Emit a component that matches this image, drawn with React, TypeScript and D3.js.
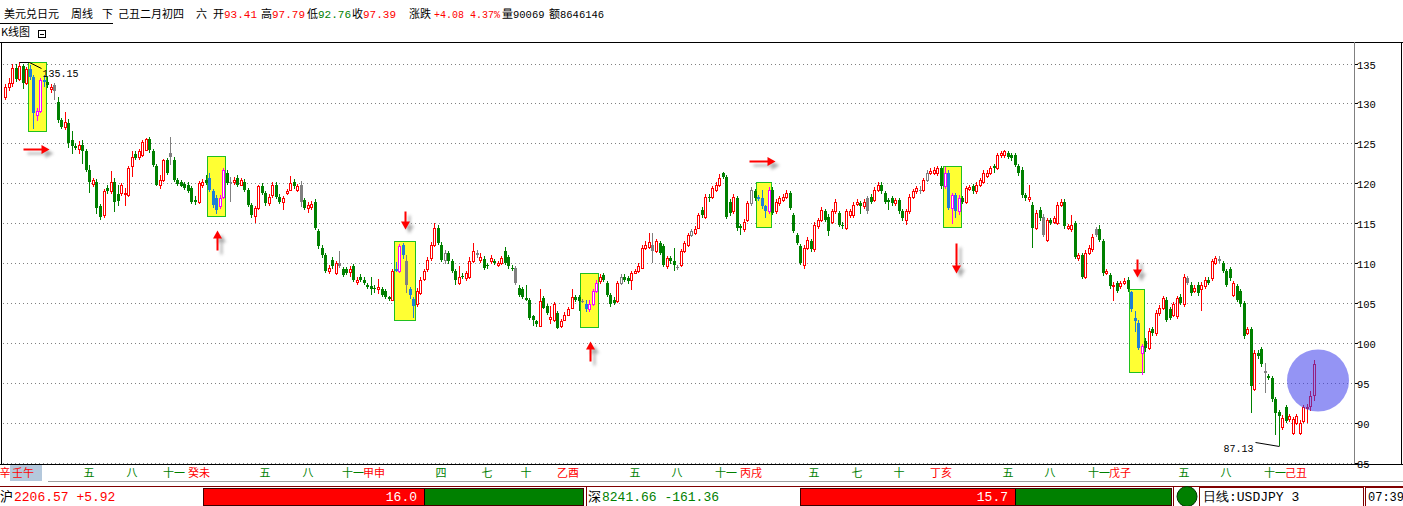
import React from "react";
import * as d3 from "d3";

// weekly USD/JPY candles: [open, high, low, close]
type Candle = [number, number, number, number];

const w2002: Candle[] = [
  [130.8,132.4,130.4,132.0],[132.0,133.2,131.5,132.6],[132.6,135.0,132.0,134.4],[134.4,134.9,132.7,133.1],
  [133.1,135.15,132.8,134.7],[134.7,135.0,131.8,132.6],[132.6,134.6,132.3,134.3],[134.3,134.8,132.9,133.3],
  [133.3,133.6,126.8,128.8],[128.6,129.4,127.8,129.0],[129.0,133.2,128.8,132.9],[132.9,133.6,132.1,132.7],
  [132.7,133.3,131.9,132.3],[131.8,132.4,131.3,132.1],[132.3,132.5,130.4,131.5],[130.2,130.8,127.6,127.9],
  [127.9,128.2,126.8,127.0],[127.1,128.9,126.7,127.7],[127.6,128.0,124.4,125.0],[125.4,126.5,123.6,124.7],
  [124.7,125.1,124.1,124.4],[124.3,125.3,123.7,124.8],[124.8,125.4,122.4,124.0],[124.0,124.3,121.4,121.7],
  [121.6,122.3,118.8,120.2],[119.9,120.7,119.5,120.4],[120.2,120.5,116.2,116.9],[117.1,117.4,115.4,115.8],
  [116.0,119.3,115.6,119.0],[119.4,119.8,118.7,119.0],[119.0,121.5,118.6,120.2],[120.2,120.6,116.4,117.7],
  [118.6,119.8,117.2,117.8],[118.8,120.0,118.4,119.8],[118.6,119.4,117.1,118.8],[118.5,122.1,118.3,121.9],
  [122.1,124.0,120.8,123.3],[123.6,124.0,122.9,123.2],[123.3,124.3,122.9,124.0],[123.5,125.4,123.3,125.2],
  [124.2,125.7,124.0,125.6],[125.6,125.8,123.8,124.2],[124.0,124.3,122.0,122.3],[122.1,122.4,119.6,119.8],
  [119.8,121.0,119.3,120.4],[120.4,123.0,120.1,122.9],[122.9,123.2,121.0,121.3],[123.8,125.8,122.3,123.3],
  [122.9,123.3,120.2,120.4],[120.4,120.6,119.7,119.9],[120.1,120.4,119.5,119.7],[119.9,120.2,119.2,119.4],
];

const w2003: Candle[] = [
  [119.8,120.1,118.8,119.0],[119.4,119.6,117.4,117.7],[117.9,118.4,117.3,117.6],[117.7,120.3,117.4,120.0],
  [119.8,120.5,119.4,120.2],[120.4,121.0,119.8,120.0],[120.6,121.3,118.9,119.2],[119.0,119.3,116.9,117.3],
  [118.2,118.5,116.2,116.6],[117.1,118.5,116.8,118.2],[118.3,121.9,118.0,121.7],[121.3,121.6,119.8,120.0],
  [120.2,120.8,117.7,120.0],[120.2,120.8,119.8,120.4],[120.6,121.0,119.5,119.8],[119.8,120.7,119.6,120.4],
  [120.2,120.5,118.9,119.2],[119.2,119.4,117.0,117.3],[117.3,117.5,115.7,116.0],[115.9,117.1,115.0,116.9],
  [116.9,119.8,116.7,119.6],[119.6,120.0,118.5,118.75],[118.75,119.0,117.2,117.5],[117.5,118.6,117.2,118.3],
  [118.5,120.1,118.2,119.8],[119.8,120.2,118.0,118.3],[118.3,118.6,117.4,117.7],[117.7,118.4,116.6,118.1],
  [118.8,119.3,118.5,119.0],[119.2,120.9,119.0,120.0],[120.2,120.5,119.3,119.6],[119.2,119.9,118.9,119.6],
  [119.8,120.3,117.0,117.7],[117.9,118.1,116.6,116.9],[116.9,117.6,116.3,117.3],[117.0,117.8,116.6,117.4],
  [117.7,118.0,114.1,114.4],[114.0,114.3,111.8,112.1],[111.9,112.2,110.6,111.0],[111.0,111.3,108.7,109.0],
  [109.0,109.8,108.6,109.4],[110.4,110.7,109.2,109.6],[108.75,110.3,108.5,110.0],[110.0,111.5,109.4,109.6],
  [109.2,109.5,108.2,108.5],[109.2,109.5,108.5,108.75],[108.9,109.6,108.3,109.2],[109.6,109.9,107.6,107.9],
  [107.6,108.2,107.3,107.9],[108.3,108.6,107.6,107.9],[107.9,108.2,107.2,107.5],[107.2,107.5,106.7,107.0],
];

const w2004: Candle[] = [
  [107.1,108.3,106.0,106.7],[106.9,107.2,106.2,106.7],[106.8,108.0,106.1,107.0],[106.7,107.0,105.7,106.0],
  [106.5,106.8,105.5,105.8],[105.7,105.9,105.3,105.5],[105.4,109.3,105.2,109.0],[109.2,110.1,108.9,109.0],
  [109.0,112.4,108.8,112.1],[112.3,112.5,110.5,111.0],[110.2,111.0,106.2,107.3],[106.75,107.0,105.5,106.0],
  [105.5,105.8,103.1,104.6],[104.8,106.9,104.5,106.5],[106.25,108.2,106.0,107.9],[108.0,109.3,107.7,109.0],
  [109.2,110.7,108.9,110.4],[110.6,112.6,110.3,112.3],[112.3,115.0,112.0,114.4],[114.4,114.7,112.2,112.5],
  [112.3,112.6,110.1,110.4],[110.4,111.6,109.9,111.2],[111.25,111.5,109.9,110.2],[110.2,110.5,108.7,109.0],
  [109.0,109.2,107.2,107.9],[107.5,109.6,107.3,108.3],[108.4,108.7,108.0,108.25],[108.1,109.0,107.7,108.75],
  [108.3,110.7,108.0,110.2],[110.2,112.5,110.0,111.5],[111.3,111.6,110.6,111.0],[110.4,111.2,110.0,110.8],
  [110.5,110.9,109.1,109.4],[109.8,110.0,109.2,109.6],[110.2,111.0,109.9,110.6],[110.2,110.5,109.7,110.0],
  [109.8,110.3,109.5,110.0],[110.0,110.9,109.7,110.6],[111.5,112.0,109.7,110.0],[110.8,111.0,109.3,109.6],
  [109.4,109.7,109.0,109.2],[109.4,109.6,107.3,107.5],[106.9,107.2,105.8,106.0],[106.7,107.0,105.5,105.8],
  [105.6,107.3,105.2,105.4],[105.4,105.6,102.9,103.1],[103.3,103.5,102.1,102.9],[102.7,102.9,102.0,102.3],
  [102.1,106.7,102.0,105.2],[105.6,105.9,104.2,104.4],[104.6,104.9,103.5,103.75],[103.0,104.6,102.3,103.2],
];

const w2005: Candle[] = [
  [102.9,105.1,102.6,104.8],[103.75,104.0,101.7,101.9],[102.1,103.0,101.9,102.7],[102.9,103.8,102.7,103.5],
  [103.5,104.5,103.3,104.2],[104.4,106.8,104.2,105.8],[105.8,106.0,105.1,105.4],[105.8,106.0,104.0,105.2],
  [105.3,105.5,105.0,105.2],[104.8,105.4,103.8,104.2],[104.2,105.4,103.9,104.8],[104.8,106.8,104.6,106.5],
  [106.5,107.9,106.3,107.5],[107.7,108.6,107.4,108.3],[108.5,108.8,107.6,107.9],[107.5,107.8,105.7,106.0],
  [106.0,106.2,104.5,104.8],[105.4,105.7,104.7,105.0],[105.2,107.8,105.0,107.5],[107.5,108.6,107.2,108.3],
  [108.3,108.6,107.6,107.9],[108.1,108.4,107.4,107.7],[107.9,109.0,106.6,108.75],[108.8,109.3,108.6,109.0],
  [109.0,110.0,108.8,109.6],[109.4,112.2,109.2,111.9],[111.9,112.7,111.6,112.3],[112.0,113.8,111.8,112.6],
  [112.3,113.75,110.0,111.5],[111.5,113.0,111.3,112.7],[112.5,112.8,111.0,111.25],[112.1,112.4,109.5,109.8],
  [109.6,110.9,109.3,110.6],[110.6,110.9,109.9,110.2],[110.2,111.9,109.0,109.8],[109.5,109.8,109.1,109.4],
  [109.8,111.8,109.5,111.5],[111.5,112.8,111.3,112.5],[112.3,113.8,112.0,113.5],[113.5,114.3,113.2,114.0],
  [113.8,114.6,113.5,114.2],[114.4,116.3,114.2,116.0],[116.7,117.0,115.7,116.0],[115.8,118.6,115.5,118.3],
  [118.3,118.7,117.6,118.1],[118.3,119.7,118.0,119.4],[119.2,120.2,118.9,119.8],[119.8,121.2,119.5,120.6],
  [121.25,121.4,120.5,120.8],[120.8,121.0,115.5,115.8],[117.7,118.0,115.9,116.25],[116.5,118.6,116.2,118.3],
];

const w2006: Candle[] = [
  [118.1,118.4,114.0,114.4],[114.6,114.9,113.5,114.4],[114.2,115.5,113.9,115.2],[115.4,117.8,115.1,117.5],
  [117.5,119.5,117.2,119.2],[119.0,119.3,117.8,118.1],[118.25,118.5,117.8,118.0],[118.1,119.2,116.8,117.1],
  [117.1,117.3,115.6,116.5],[116.5,119.5,116.2,119.2],[119.2,119.5,116.0,116.25],[116.5,118.0,116.2,117.7],
  [117.5,118.4,117.2,118.1],[117.9,118.7,117.6,118.3],[118.3,119.1,118.0,118.75],[118.75,119.0,116.6,116.9],
  [116.0,116.3,113.7,114.0],[113.5,113.8,112.2,112.5],[112.1,112.4,109.7,110.0],[109.8,112.2,109.2,111.9],
  [111.9,113.2,111.6,112.9],[112.7,113.0,111.4,111.7],[111.7,115.1,111.4,114.8],[114.6,115.7,114.3,115.4],
  [115.4,117.0,115.1,116.7],[116.5,116.8,115.1,115.4],[115.8,116.1,113.4,114.0],[115.2,116.8,114.9,116.5],
  [116.5,118.0,116.2,117.7],[116.25,116.5,114.5,114.8],[114.8,115.1,114.2,114.6],[114.4,116.8,114.1,116.5],
  [116.0,116.8,115.7,116.5],[116.0,117.6,115.7,117.3],[117.4,118.0,117.1,117.6],[117.5,117.8,116.1,117.1],
  [117.1,118.0,116.8,117.7],[118.1,118.4,116.2,116.5],[118.3,118.6,117.4,117.7],[117.9,119.5,117.6,119.2],
  [119.2,120.2,118.9,119.8],[119.8,120.1,118.7,119.0],[118.75,119.0,117.4,117.7],[117.9,118.1,116.7,117.7],
  [118.1,118.4,117.2,117.5],[117.5,118.2,117.2,117.9],[117.9,118.2,116.2,116.5],[116.5,116.8,115.3,115.6],
  [115.4,116.8,114.8,116.5],[116.5,118.6,116.2,118.3],[118.3,119.3,118.0,119.0],[119.0,119.7,118.7,119.4],
];

const w2007: Candle[] = [
  [119.2,119.6,118.7,119.0],[119.2,120.7,118.9,120.4],[120.4,121.6,120.1,121.25],[121.3,121.9,121.0,121.5],
  [121.25,122.0,121.0,121.7],[121.25,122.2,120.9,121.9],[121.9,122.2,119.3,119.6],[119.6,122.0,119.3,121.25],
  [121.25,121.6,116.6,116.9],[116.9,118.8,114.9,118.5],[118.5,118.8,115.6,116.5],[116.5,118.5,116.0,118.1],
  [118.1,118.4,117.4,117.7],[117.7,119.7,117.4,119.4],[119.3,119.8,119.0,119.5],[119.6,119.9,118.7,119.0],
  [119.0,120.1,118.7,119.8],[119.8,120.7,119.5,120.4],[120.2,121.6,119.9,121.25],[120.9,121.6,120.6,121.25],
  [121.25,122.2,121.0,121.9],[122.1,122.4,121.25,121.9],[121.9,123.8,121.6,123.5],[123.5,124.0,123.2,123.8],
  [123.5,124.15,123.2,124.0],[123.75,124.0,123.0,123.3],[123.5,123.8,122.8,123.1],[123.5,123.8,122.0,122.3],
  [122.1,122.4,120.9,121.25],[121.7,122.0,118.2,118.5],[118.5,118.8,117.8,118.1],[118.0,119.8,117.7,118.3],
  [117.3,117.6,111.9,114.4],[114.4,116.6,114.1,116.25],[116.7,117.0,115.3,115.6],[115.8,116.1,113.2,113.5],
  [112.9,115.7,112.6,115.4],[115.4,115.7,114.7,115.0],[115.2,115.9,114.9,115.6],[115.0,117.6,114.7,117.3],
  [117.3,118.0,117.0,117.7],[117.7,118.0,114.3,114.6],[114.4,114.9,114.1,114.6],[114.2,116.0,113.9,114.8],
  [115.0,115.3,110.5,110.8],[110.6,111.3,110.3,111.0],[111.0,111.3,108.0,108.3],[108.3,111.6,108.0,111.25],
  [111.25,112.2,111.0,111.9],[111.7,113.6,111.4,113.3],[114.2,114.5,113.2,113.5],[114.2,114.8,112.6,112.9],
];

const w2008: Candle[] = [
  [112.7,113.0,108.4,108.75],[108.75,109.3,108.5,109.0],[108.5,108.8,106.8,107.1],[107.1,107.6,105.2,107.3],
  [107.5,107.8,106.2,106.5],[107.1,107.8,106.8,107.5],[107.5,108.1,107.2,107.8],[107.9,108.3,106.4,106.7],
  [106.4,106.5,103.9,104.2],[103.1,104.0,101.3,102.7],[102.5,102.8,99.1,99.4],[98.75,99.9,96.0,99.6],
  [100.2,100.6,98.9,99.4],[99.4,101.8,99.1,101.5],[101.7,102.0,100.9,101.25],[101.25,104.1,100.9,103.75],
  [103.75,104.7,103.4,104.4],[104.4,105.9,104.1,105.6],[105.4,105.7,102.6,102.9],[104.2,104.5,102.8,103.1],
  [103.5,105.1,103.2,104.8],[103.3,105.9,103.0,105.6],[105.8,106.1,104.7,105.0],[104.8,108.6,104.5,108.3],
  [108.1,108.4,107.2,107.5],[107.3,107.6,105.9,106.25],[106.5,107.2,106.2,106.9],[107.3,107.6,105.9,106.25],
  [106.7,107.6,104.0,107.3],[107.1,108.2,106.8,107.9],[107.9,108.2,107.2,107.5],[108.1,110.5,107.8,110.2],
  [110.0,110.9,109.7,110.6],[110.5,110.9,109.9,110.2],[110.0,110.3,108.7,109.0],[109.0,109.3,107.0,107.3],
  [109.2,109.5,107.8,108.1],[106.0,107.8,105.7,107.5],[107.1,107.4,105.1,105.4],[106.5,106.8,104.5,104.8],
  [105.0,105.3,100.5,100.8],[101.25,102.0,101.0,101.7],[101.7,102.0,91.25,94.6],[94.2,99.1,93.9,98.75],
  [98.75,99.1,98.0,98.3],[99.2,99.5,97.0,97.3],[96.5,97.5,93.75,96.25],[95.8,96.1,95.3,95.6],
  [95.6,95.9,92.6,92.9],[92.9,93.2,88.5,91.25],[91.3,91.6,87.13,90.8],[89.4,90.9,89.1,90.6],
];

const w2009: Candle[] = [
  [91.9,92.2,89.9,90.2],[90.4,91.1,90.1,90.8],[88.75,90.7,88.5,90.4],[90.0,91.1,89.7,90.8],
  [88.75,90.3,88.5,90.0],[90.2,92.2,89.9,91.9],[91.8,92.3,90.0,91.95],[92.1,93.9,91.5,93.31],
  [93.41,97.79,92.76,97.39],
];

const CANDLES: Candle[] = [...w2002, ...w2003, ...w2004, ...w2005, ...w2006, ...w2007, ...w2008, ...w2009];

// weeks the terminal paints grey
const neutralWeeks = [14, 47, 64, 84, 95, 114, 125, 134, 145, 164, 175, 184, 191, 195, 212, 245, 260, 262, 295, 310, 336, 345, 358];

// highlighted pattern zones: [first week, last week, upper price, lower price]
const patternZones: [number, number, number, number][] = [
  [7, 11, 135.2, 126.5],
  [58, 62, 123.4, 115.9],
  [111, 116, 112.8, 102.9],
  [164, 168, 108.7, 102.0],
  [214, 217, 120.2, 114.5],
  [267, 271, 122.2, 114.5],
  [320, 323, 106.7, 96.3],
];

// arrow per zone
const signals: { zone: number; dir: "right" | "up" | "down"; side: "above" | "below" }[] = [
  { zone: 0, dir: "right", side: "below" },
  { zone: 1, dir: "up", side: "below" },
  { zone: 2, dir: "down", side: "above" },
  { zone: 3, dir: "up", side: "below" },
  { zone: 4, dir: "right", side: "above" },
  { zone: 5, dir: "down", side: "below" },
  { zone: 6, dir: "down", side: "above" },
];

// lunar month / year labels under the chart: [week, text, isYear]
const axisMarks: [number, string, boolean][] = [
  [0, "辛", true], [5, "壬午", true], [24, "五", false], [36, "八", false], [48, "十一", false], [55, "癸未", true],
  [74, "五", false], [86, "八", false], [99, "十一", false], [105, "甲申", true], [124, "四", false], [137, "七", false],
  [148, "十", false], [160, "乙酉", true], [179, "五", false], [191, "八", false], [205, "十一", false], [212, "丙戌", true],
  [230, "五", false], [242, "七", false], [254, "十", false], [266, "丁亥", true], [285, "五", false], [297, "八", false],
  [311, "十一", false], [317, "戊子", true], [335, "五", false], [347, "八", false], [361, "十一", false], [367, "己丑", true],
];

const priceTicks = [85, 90, 95, 100, 105, 110, 115, 120, 125, 130, 135];

const titleParts = { name: "美元兑日元", period: "周线", mode: "下", date: "己丑二月初四", weekday: "六" };
const tradeStats = { volume: 90069, amount: 8646146 };
const indexPanels = [
  { name: "沪", value: 2206.57, change: 5.92, ratio: 0.578, score: "16.0" },
  { name: "深", value: 8241.66, change: -161.36, ratio: 0.577, score: "15.7" },
];
const statusText = { chart: "日线:USDJPY 3", time: "07:39" };

const RED = "#ff0000";
const GREEN = "#008000";
const BLUE = "#1e7fd6";
const MAGENTA = "#ff00ff";
const GRAY = "#808080";
const CJK = "'Noto Sans CJK SC', sans-serif";
const MONO = "'Liberation Mono', monospace";

const W = 1403;
const H = 506;
const x = d3.scaleLinear().domain([0, CANDLES.length - 1]).range([5, 1314]);
const y = d3.scaleLinear().domain([85, 135]).range([462.5, 63.5]);

function zoneOf(i: number) {
  return patternZones.findIndex(([a, b]) => i >= a && i <= b);
}

function zoneBox(z: number) {
  const [a, b, top, bottom] = patternZones[z];
  return {
    x0: Math.round(x(a)) - 1.5,
    x1: Math.round(x(b)) + 2.5,
    y0: Math.round(y(top)) + 0.5,
    y1: Math.round(y(bottom)) + 0.5,
  };
}

function CandleMark({ i, d }: { i: number; d: Candle }) {
  const [o, h, l, c] = d;
  const cx = Math.round(x(i));
  const up = c >= o;
  let color = up ? RED : GREEN;
  if (zoneOf(i) >= 0) color = up ? MAGENTA : BLUE;
  if (neutralWeeks.includes(i)) color = GRAY;
  const top = Math.round(y(Math.max(o, c)));
  const bot = Math.round(y(Math.min(o, c)));
  const yh = Math.round(y(h));
  const yl = Math.round(y(l));
  const wx = cx + 0.5;
  if (up) {
    return (
      <g>
        <line x1={wx} x2={wx} y1={yh} y2={top} stroke={color} />
        <line x1={wx} x2={wx} y1={bot} y2={yl} stroke={color} />
        {bot - top >= 1 ? (
          <rect x={cx - 0.5} y={top + 0.5} width={2} height={bot - top} fill="#fff" stroke={color} />
        ) : (
          <line x1={cx - 1} x2={cx + 2} y1={top + 0.5} y2={top + 0.5} stroke={color} />
        )}
      </g>
    );
  }
  return (
    <g>
      <line x1={wx} x2={wx} y1={yh} y2={yl} stroke={color} />
      <rect x={cx - 1} y={top} width={3} height={Math.max(bot - top, 1)} fill={color} />
    </g>
  );
}

function arrowPath(len: number) {
  const hl = 8, hw = 4.5;
  return `M0,-1L${len - hl},-1L${len - hl},${-hw}L${len},0L${len - hl},${hw}L${len - hl},1L0,1Z`;
}

function Signal({ s }: { s: (typeof signals)[number] }) {
  const b = zoneBox(s.zone);
  const cxm = Math.round((b.x0 + b.x1) / 2) + 0.5;
  let len = 20, tx = 0, ty = 0, rot = 0;
  if (s.dir === "right") {
    len = 26;
    tx = cxm - 2 - len / 2;
    ty = s.side === "below" ? b.y1 + 18 : b.y0 - 21;
  } else if (s.dir === "up") {
    tx = cxm;
    ty = b.y1 + 14 + len;
    rot = -90;
  } else if (s.side === "above") {
    len = 18;
    tx = cxm;
    ty = b.y0 - 12 - len;
    rot = 90;
  } else {
    len = 30;
    tx = cxm + 3;
    ty = b.y1 + 16;
    rot = 90;
  }
  const p = arrowPath(len);
  return (
    <g>
      <path d={p} transform={`translate(${tx + 4},${ty + 4}) rotate(${rot})`} fill="#8a8a8a" opacity={0.7} filter="url(#blur)" />
      <path d={p} transform={`translate(${tx},${ty}) rotate(${rot})`} fill={RED} />
    </g>
  );
}

export default function App() {
  const last = CANDLES[CANDLES.length - 1];
  const prev = CANDLES[CANDLES.length - 2];
  const chg = last[3] - prev[3];
  const pct = (chg / prev[3]) * 100;

  const hiIdx = d3.maxIndex(CANDLES, (d) => d[1]);
  const loIdx = d3.minIndex(CANDLES, (d) => d[2]);
  const hiX = Math.round(x(hiIdx)) + 0.5;
  const hiY = Math.round(y(CANDLES[hiIdx][1])) + 0.5;
  const loX = Math.round(x(loIdx)) + 0.5;
  const loY = Math.round(y(CANDLES[loIdx][2])) + 0.5;

  const lastX = Math.round(x(CANDLES.length - 1));
  const circleY = (y(last[1]) + y(last[2])) / 2;

  const hdr: [number, string, string, string, number][] = [
    [4, titleParts.name, "#000", CJK, 11],
    [71, titleParts.period, "#000", CJK, 11],
    [102, titleParts.mode, "#000", CJK, 11],
    [118, titleParts.date, "#000", CJK, 11],
    [196, titleParts.weekday, "#000", CJK, 11],
    [213, "开", "#000", CJK, 11],
    [224, last[0].toFixed(2), RED, MONO, 11],
    [261, "高", "#000", CJK, 11],
    [272, last[1].toFixed(2), RED, MONO, 11],
    [307, "低", "#000", CJK, 11],
    [318, last[2].toFixed(2), GREEN, MONO, 11],
    [352, "收", "#000", CJK, 11],
    [363, last[3].toFixed(2), RED, MONO, 11],
    [409, "涨跌", "#000", CJK, 11],
    [434, `+${chg.toFixed(2)} ${pct.toFixed(2)}%`, RED, MONO, 10],
    [502, "量", "#000", CJK, 11],
    [513, String(tradeStats.volume), "#000", MONO, 10.5],
    [549, "额", "#000", CJK, 11],
    [560, String(tradeStats.amount), "#000", MONO, 10.5],
  ];

  const panelLayout = [
    { tx: 0, bx: 203, bw: 380 },
    { tx: 588, bx: 800, bw: 371 },
  ];

  return (
    <div style={{ position: "absolute", left: 0, top: 0 }}>
      <svg width={W} height={H} style={{ display: "block", background: "#fff" }}>
        <defs>
          <filter id="blur" x="-50%" y="-50%" width="200%" height="200%">
            <feGaussianBlur stdDeviation={1.6} />
          </filter>
          <clipPath id="plot">
            <rect x={2} y={43} width={1352} height={421} />
          </clipPath>
        </defs>

        {/* header */}
        {hdr.map(([hx, t, col, f, fs], k) => (
          <text key={k} x={hx} y={18} fill={col} fontFamily={f} fontSize={fs}>{t}</text>
        ))}
        <line x1={0} x2={113} y1={23.5} y2={23.5} stroke="#000" />
        <text x={1} y={36} fontFamily={CJK} fontSize={11} fill="#000">K线图</text>
        <rect x={38.5} y={30.5} width={7} height={7} fill="#fff" stroke="#000" />
        <line x1={40} x2={44} y1={34.5} y2={34.5} stroke="#000" />

        {/* frame */}
        <line x1={0} x2={W} y1={42.5} y2={42.5} stroke="#000" />
        <line x1={1.5} x2={1.5} y1={42} y2={465} stroke="#000" />
        <line x1={1354.5} x2={1354.5} y1={42} y2={465} stroke="#808080" />
        <line x1={1401.5} x2={1401.5} y1={42} y2={465} stroke="#000" />
        <line x1={0} x2={W} y1={464.5} y2={464.5} stroke="#000" />

        {/* grid + axis */}
        {priceTicks.map((p) => {
          const yy = Math.round(y(p)) + 0.5;
          return (
            <g key={p}>
              <line x1={3} x2={1353} y1={yy} y2={yy} stroke="#808080" strokeDasharray="1 3" />
              <line x1={1355} x2={1358} y1={yy} y2={yy} stroke="#000" />
              <text x={1357} y={yy + 4} fontFamily={MONO} fontSize={10.5} fill="#000">{p}</text>
            </g>
          );
        })}

        <g clipPath="url(#plot)">
          {patternZones.map((_, z) => {
            const b = zoneBox(z);
            return <rect key={z} x={b.x0} y={b.y0} width={b.x1 - b.x0} height={b.y1 - b.y0} fill="#ffff33" stroke="#20c020" />;
          })}
          {CANDLES.map((d, i) => <CandleMark key={i} i={i} d={d} />)}
          {signals.map((s, k) => <Signal key={k} s={s} />)}

          {/* extreme labels */}
          <polyline points={`${hiX},${hiY} ${hiX + 10},${hiY} ${hiX + 22},${hiY + 6}`} fill="none" stroke="#000" />
          <text x={hiX + 23} y={hiY + 14} fontFamily={MONO} fontSize={10} fill="#000">{CANDLES[hiIdx][1].toFixed(2)}</text>
          <line x1={loX} y1={loY} x2={loX - 24} y2={loY - 4} stroke="#000" />
          <text x={loX - 26} y={loY + 5} textAnchor="end" fontFamily={MONO} fontSize={10} fill="#000">{CANDLES[loIdx][2].toFixed(2)}</text>

          <circle cx={lastX + 4} cy={circleY} r={31} fill="rgb(60,60,235)" opacity={0.55} />
        </g>

        {/* time axis */}
        <rect x={10} y={465} width={32} height={16} fill="#b4c8dc" />
        {axisMarks.map(([i, t, yr], k) => (
          <text key={k} x={Math.round(x(i))} y={477} textAnchor="middle" fontFamily={CJK} fontSize={11} fill={yr ? RED : GREEN}>{t}</text>
        ))}
        <line x1={48} x2={W} y1={481.5} y2={481.5} stroke="#a0a0a0" />

        {/* status bar */}
        <line x1={0} x2={W} y1={486.5} y2={486.5} stroke="#800000" />
        {indexPanels.map((p, k) => {
          const L = panelLayout[k];
          const redW = Math.round(L.bw * p.ratio);
          return (
            <g key={k}>
              <text x={L.tx} y={501} fontFamily={CJK} fontSize={13} fill="#000">{p.name}</text>
              <text x={L.tx + 14} y={501} fontFamily={MONO} fontSize={13} fill={p.change >= 0 ? RED : GREEN}>
                {`${p.value.toFixed(2)} ${p.change >= 0 ? "+" : ""}${p.change.toFixed(2)}`}
              </text>
              <rect x={L.bx + 0.5} y={488.5} width={L.bw} height={17} fill={GREEN} stroke="#400000" />
              <rect x={L.bx + 1} y={489} width={redW} height={16} fill={RED} />
              <line x1={L.bx + 1 + redW + 0.5} x2={L.bx + 1 + redW + 0.5} y1={489} y2={505} stroke="#000" />
              <text x={L.bx + redW - 6} y={501} textAnchor="end" fontFamily={MONO} fontSize={13} fill="#fff">{p.score}</text>
            </g>
          );
        })}
        <line x1={586.5} x2={586.5} y1={487} y2={H} stroke="#800000" />
        <line x1={1173.5} x2={1173.5} y1={487} y2={H} stroke="#800000" />
        <circle cx={1187} cy={496.5} r={10} fill={GREEN} stroke="#003000" />
        <rect x={1199.5} y={487.5} width={164} height={19} fill="#fff" stroke="#800000" />
        <text x={1203} y={501} fontFamily={MONO} fontSize={13} fill="#000">{statusText.chart}</text>
        <rect x={1365.5} y={487.5} width={40} height={19} fill="#fff" stroke="#800000" />
        <text x={1368} y={501} fontFamily={MONO} fontSize={12} fill="#000">{statusText.time}</text>
      </svg>
    </div>
  );
}
